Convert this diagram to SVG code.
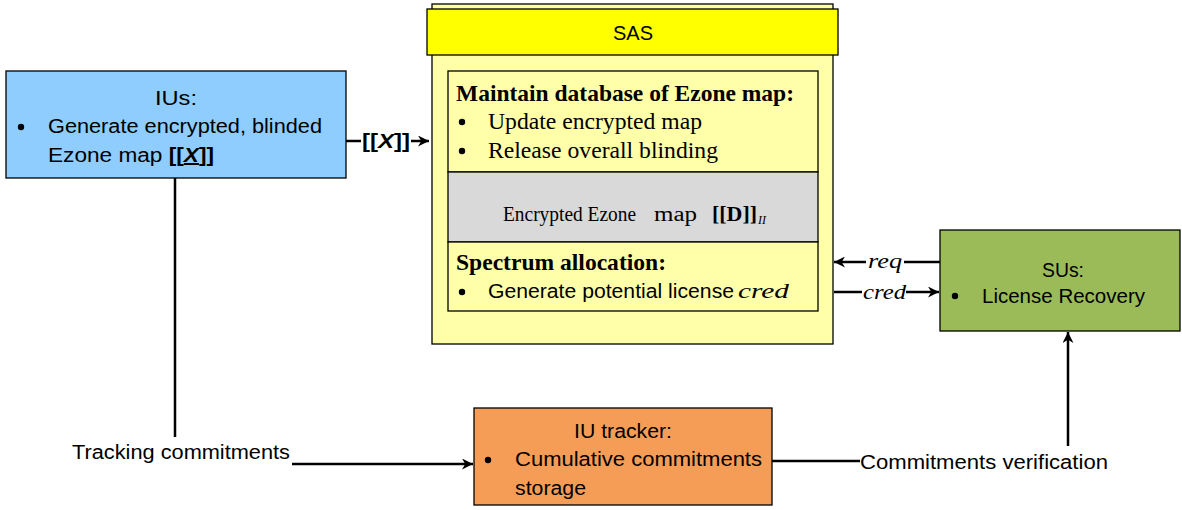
<svg xmlns="http://www.w3.org/2000/svg" width="1182" height="510" viewBox="0 0 1182 510">
  <defs>
    <marker id="arrow" viewBox="0 0 10 10" refX="10" refY="5" markerWidth="11" markerHeight="11" markerUnits="userSpaceOnUse" orient="auto">
      <path d="M0,0 L10,5 L0,10 L3,5 z" fill="#000"/>
    </marker>
    <style>
      .box { stroke: #000; stroke-width: 1.3; }
      .sans { font-family: "Liberation Sans", Arial, sans-serif; font-size: 20px; fill: #000; }
      .serif { font-family: "Liberation Serif", "Times New Roman", serif; font-size: 23px; fill: #000; }
      .bold { font-weight: bold; }
      .ital { font-style: italic; }
      .line { stroke: #000; stroke-width: 2.5; fill: none; }
    </style>
  </defs>
  <rect width="1182" height="510" fill="#fff"/>

  <!-- IUs -->
  <g id="ius">
    <rect class="box" x="6" y="71" width="340" height="107" fill="#8FCDFF"/>
    <text class="sans" x="155" y="105" textLength="42" lengthAdjust="spacingAndGlyphs">IUs:</text>
    <circle cx="21" cy="127" r="3.2" fill="#000"/>
    <text class="sans" x="48" y="133" textLength="274" lengthAdjust="spacingAndGlyphs">Generate encrypted, blinded</text>
    <text class="sans" x="48" y="162" textLength="166" lengthAdjust="spacingAndGlyphs">Ezone map <tspan class="bold">[[<tspan class="ital" text-decoration="underline">X</tspan>]]</tspan></text>
  </g>

  <!-- SAS -->
  <g id="sas">
    <rect class="box" x="432" y="4" width="401" height="340" fill="#FFFFAA"/>
    <rect class="box" x="427" y="9" width="411" height="46" fill="#FFFF00"/>
    <text class="sans" x="613" y="40" style="font-size:21px" textLength="40" lengthAdjust="spacingAndGlyphs">SAS</text>
  </g>

  <g id="sas-database">
    <rect class="box" x="448" y="71" width="370" height="101" fill="#FFFFAA"/>
    <text class="serif bold" x="456" y="101" textLength="338" lengthAdjust="spacingAndGlyphs">Maintain database of Ezone map:</text>
    <circle cx="462" cy="122" r="3.2" fill="#000"/>
    <text class="serif" x="488" y="129" textLength="214" lengthAdjust="spacingAndGlyphs">Update encrypted map</text>
    <circle cx="462" cy="151" r="3.2" fill="#000"/>
    <text class="serif" x="488" y="158" textLength="230" lengthAdjust="spacingAndGlyphs">Release overall blinding</text>
  </g>

  <g id="sas-map">
    <rect class="box" x="448" y="172" width="370" height="70" fill="#D9D9D9"/>
    <text class="serif" x="503" y="221" style="font-size:20px" textLength="133" lengthAdjust="spacingAndGlyphs">Encrypted Ezone</text>
    <text class="serif" x="654" y="221" style="font-size:20px" textLength="43" lengthAdjust="spacingAndGlyphs">map</text>
    <text class="serif bold" x="712" y="221" style="font-size:21px" textLength="45" lengthAdjust="spacingAndGlyphs">[[D]]</text>
    <text class="serif ital" x="758" y="224" style="font-size:12px">II</text>
  </g>

  <g id="sas-allocation">
    <rect class="box" x="448" y="242" width="370" height="69" fill="#FFFFAA"/>
    <text class="serif bold" x="456" y="270" textLength="210" lengthAdjust="spacingAndGlyphs">Spectrum allocation:</text>
    <circle cx="462" cy="292" r="3.2" fill="#000"/>
    <text class="sans" x="488" y="298" textLength="246" lengthAdjust="spacingAndGlyphs">Generate potential license</text>
    <text class="serif ital" x="738" y="298" style="font-size:22px" textLength="51" lengthAdjust="spacingAndGlyphs">cred</text>
  </g>

  <!-- SUs -->
  <g id="sus">
    <rect class="box" x="940" y="230" width="240" height="101" fill="#9BBB59"/>
    <text class="sans" x="1042" y="277" textLength="42" lengthAdjust="spacingAndGlyphs">SUs:</text>
    <circle cx="955" cy="296" r="3.2" fill="#000"/>
    <text class="sans" x="982" y="303" textLength="163" lengthAdjust="spacingAndGlyphs">License Recovery</text>
  </g>

  <!-- IU tracker -->
  <g id="iu-tracker">
    <rect class="box" x="474" y="408" width="298" height="97" fill="#F59D56"/>
    <text class="sans" x="574" y="438" textLength="98" lengthAdjust="spacingAndGlyphs">IU tracker:</text>
    <circle cx="488" cy="460" r="3.2" fill="#000"/>
    <text class="sans" x="515" y="466" textLength="247" lengthAdjust="spacingAndGlyphs">Cumulative commitments</text>
    <text class="sans" x="515" y="495" textLength="71" lengthAdjust="spacingAndGlyphs">storage</text>
  </g>

  <!-- connectors -->
  <g id="connectors">
    <line class="line" x1="346" y1="141" x2="361" y2="141"/>
    <text class="sans bold" x="362" y="148" textLength="48" lengthAdjust="spacingAndGlyphs">[[<tspan class="ital">X</tspan>]]</text>
    <line class="line" x1="411" y1="141" x2="429" y2="141" marker-end="url(#arrow)"/>

    <line class="line" x1="940" y1="262" x2="904" y2="262"/>
    <text class="serif ital" x="868" y="268" style="font-size:21px" textLength="34" lengthAdjust="spacingAndGlyphs">req</text>
    <line class="line" x1="866" y1="262" x2="834" y2="262" marker-end="url(#arrow)"/>

    <line class="line" x1="834" y1="292" x2="862" y2="292"/>
    <text class="serif ital" x="863" y="299" style="font-size:21px" textLength="43" lengthAdjust="spacingAndGlyphs">cred</text>
    <line class="line" x1="906" y1="292" x2="939" y2="292" marker-end="url(#arrow)"/>

    <line class="line" x1="175" y1="178" x2="175" y2="437"/>
    <text class="sans" x="72" y="459" textLength="218" lengthAdjust="spacingAndGlyphs">Tracking commitments</text>
    <line class="line" x1="292" y1="464" x2="473" y2="464" marker-end="url(#arrow)"/>

    <line class="line" x1="772" y1="461" x2="860" y2="461"/>
    <text class="sans" x="860" y="469" textLength="248" lengthAdjust="spacingAndGlyphs">Commitments verification</text>
    <line class="line" x1="1068" y1="446" x2="1068" y2="332" marker-end="url(#arrow)"/>
  </g>
</svg>
